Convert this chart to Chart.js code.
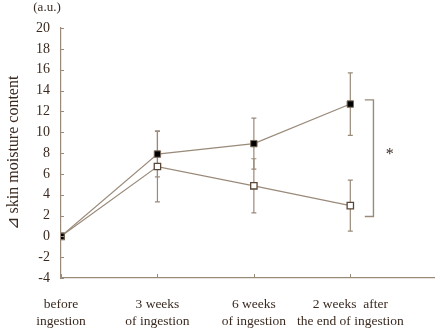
<!DOCTYPE html>
<html>
<head>
<meta charset="utf-8">
<script src="https://cdn.jsdelivr.net/npm/chart.js@4/dist/chart.umd.min.js"></script>
<style>
  html, body { margin: 0; padding: 0; background: #fff; }
  #wrap { width: 440px; height: 334px; }
</style>
</head>
<body>
<div id="wrap"><canvas id="Chart1" width="440" height="334"></canvas></div>
<script>
// categories (x positions 0..3)
var categories = [
	["before", "ingestion"],
	["3 weeks", "of ingestion"],
	["6 weeks", "of ingestion"],
	["2 weeks  after", "the end of ingestion"]
];
var xPos = [0, 1, 2, 3];

// filled squares
var filledValues = [0, 7.9, 8.9, 12.7];
var filledErrors = [0, 2.2, 2.45, 3.0];

// open squares
var openValues = [0, 6.7, 4.85, 2.95];
var openErrors = [0, 3.4, 2.6, 2.45];

var yTicks = [-4, -2, 0, 2, 4, 6, 8, 10, 12, 14, 16, 18, 20];

var lineColor = '#9a8a7a';
var textColor = '#3a2a20';
var serif = "'Liberation Serif', 'DejaVu Serif', serif";

function points(vals) {
	return vals.map(function (v, i) { return { x: xPos[i], y: v }; });
}

// error bars, drawn behind the markers
var errorBars = {
	id: 'errorBars',
	beforeDatasetsDraw: function (chart) {
		var ctx = chart.ctx, xs = chart.scales.x, ys = chart.scales.y;
		var sets = [[filledValues, filledErrors], [openValues, openErrors]];
		ctx.save();
		ctx.strokeStyle = lineColor;
		ctx.lineWidth = 1.2;
		sets.forEach(function (s) {
			s[0].forEach(function (v, i) {
				if (!s[1][i]) return;
				var x = xs.getPixelForValue(xPos[i]);
				var t = ys.getPixelForValue(v + s[1][i]);
				var b = ys.getPixelForValue(v - s[1][i]);
				ctx.beginPath();
				ctx.moveTo(x, t); ctx.lineTo(x, b);
				ctx.moveTo(x - 2.5, t); ctx.lineTo(x + 2.5, t);
				ctx.moveTo(x - 2.5, b); ctx.lineTo(x + 2.5, b);
				ctx.stroke();
			});
		});
		ctx.restore();
	}
};

// inward ticks, significance bracket, unit label
var extras = {
	id: 'extras',
	afterDraw: function (chart) {
		var ctx = chart.ctx, xs = chart.scales.x, ys = chart.scales.y;
		var a = chart.chartArea;
		ctx.save();
		ctx.strokeStyle = lineColor;
		ctx.lineWidth = 1;
		ctx.beginPath();
		yTicks.forEach(function (t) {
			var y = Math.round(ys.getPixelForValue(t)) + 0.5;
			ctx.moveTo(a.left, y); ctx.lineTo(a.left + 3, y);
		});
		xPos.forEach(function (p) {
			var x = Math.round(xs.getPixelForValue(p)) + 0.5;
			ctx.moveTo(x, a.bottom); ctx.lineTo(x, a.bottom - 4);
		});
		ctx.stroke();

		// bracket
		var bx1 = xs.getPixelForValue(3.15), bx2 = xs.getPixelForValue(3.24);
		var by1 = ys.getPixelForValue(13.1), by2 = ys.getPixelForValue(1.9);
		ctx.lineWidth = 1.4;
		ctx.beginPath();
		ctx.moveTo(bx1, by1); ctx.lineTo(bx2, by1); ctx.lineTo(bx2, by2); ctx.lineTo(bx1, by2);
		ctx.stroke();

		ctx.fillStyle = textColor;
		ctx.font = "16px " + serif;
		ctx.textAlign = 'center';
		ctx.textBaseline = 'middle';
		ctx.fillText('*', xs.getPixelForValue(3.41), ys.getPixelForValue(7.8));

		ctx.font = "13px " + serif;
		ctx.fillText('(a.u.)', 47, 8);
		ctx.restore();
	}
};

var context = document.getElementById("Chart1").getContext("2d");

var myChart = new Chart(context, {
	type: 'line',
	data: {
		datasets: [{
			data: points(filledValues),
			borderColor: lineColor,
			borderWidth: 1.2,
			pointStyle: 'rect',
			pointRadius: 4.5,
			pointBackgroundColor: '#000',
			pointBorderColor: '#7a6a5a',
			pointBorderWidth: 1
		}, {
			data: points(openValues),
			borderColor: lineColor,
			borderWidth: 1.2,
			pointStyle: 'rect',
			pointRadius: 4.5,
			pointBackgroundColor: '#fff',
			pointBorderColor: '#5a4636',
			pointBorderWidth: 1.3
		}]
	},
	options: {
		responsive: false,
		animation: false,
		layout: { padding: { top: 28, left: 0, right: 0, bottom: 0 } },
		plugins: {
			legend: { display: false },
			tooltip: { enabled: false }
		},
		scales: {
			x: {
				type: 'linear',
				min: 0,
				max: 3.87,
				afterBuildTicks: function (scale) {
					scale.ticks = xPos.map(function (p) { return { value: p }; });
				},
				afterFit: function (scale) { scale.height = 56; },
				grid: { display: false, drawTicks: false },
				border: { display: true, color: lineColor, width: 1.2 },
				ticks: {
					autoSkip: false,
					maxRotation: 0,
					padding: 18,
					color: textColor,
					font: { family: serif, size: 13.5, lineHeight: 1.25 },
					callback: function (v) { return categories[v]; }
				}
			},
			y: {
				min: -4,
				max: 20,
				afterBuildTicks: function (scale) {
					scale.ticks = yTicks.map(function (t) { return { value: t }; });
				},
				afterFit: function (scale) { scale.width = 61; },
				grid: { display: false, drawTicks: false },
				border: { display: true, color: lineColor, width: 1.2 },
				ticks: {
					padding: 11,
					color: textColor,
					font: { family: serif, size: 14 }
				},
				title: {
					display: true,
					text: '⊿ skin moisture content',
					color: textColor,
					padding: { top: 4, bottom: 0 },
					font: { family: serif, size: 16 }
				}
			}
		}
	},
	plugins: [errorBars, extras]
});
</script>
</body>
</html>
